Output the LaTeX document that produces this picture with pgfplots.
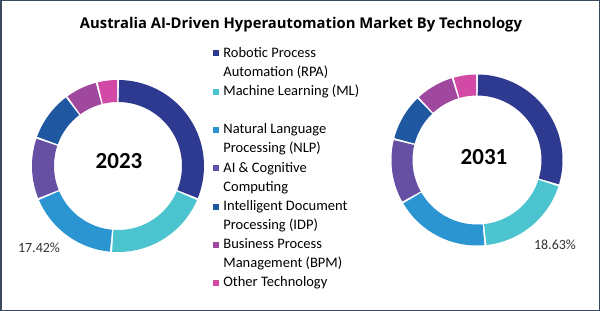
\documentclass[border=0pt]{standalone}
\usepackage{pgfplots}
\pgfplotsset{compat=1.18}
\usepackage{pgfplotstable}
\usepackage{fontspec}
\setmainfont{Carlito}
\newfontfamily\titlefont{Open Sans}
\definecolor{c0}{HTML}{2E3A8F}
\definecolor{c1}{HTML}{4CC4D0}
\definecolor{c2}{HTML}{2B95D2}
\definecolor{c3}{HTML}{6550A3}
\definecolor{c4}{HTML}{1F57A0}
\definecolor{c5}{HTML}{A0479E}
\definecolor{c6}{HTML}{D24AA5}
\definecolor{frame}{HTML}{3A4A5C}

\pgfplotstableread{
tech  v2023 v2031
RPA   31.30 29.80
ML    20.00 18.63
NLP   17.42 18.30
AI    11.60 12.20
IDP    9.50  9.00
BPM    6.20  7.50
Other  3.98  4.57
}\techdata

% #1 column, #2 cx, #3 cy, #4 mid radius, #5 ring width
\newcommand\donut[5]{%
  \xdef\cum{0}%
  \foreach \i in {0,...,6}{%
    \pgfplotstablegetelem{\i}{#1}\of\techdata
    \pgfmathsetmacro\a{\cum*3.6+0.7}%
    \pgfmathsetmacro\newcum{\cum+\pgfplotsretval}%
    \pgfmathsetmacro\b{\newcum*3.6-0.7}%
    \xdef\cum{\newcum}%
    \edef\tmp{\noexpand\addplot[forget plot, draw=c\i, line width=#5bp, domain=\a:\b, samples=90] ({#2+#4*sin(x)},{#3+#4*cos(x)});}%
    \tmp
  }}

\begin{document}
\begin{tikzpicture}
\useasboundingbox (0,0) rectangle (600bp,311bp);
\begin{axis}[
  at={(0,0)}, anchor=south west,
  x=1bp, y=1bp, xmin=0, xmax=600, ymin=0, ymax=311,
  hide axis, clip=false,
  legend cell align=left,
  legend style={at={(0.355,0.857)}, anchor=north west, draw=none, fill=none,
    inner sep=0pt, outer sep=0pt, row sep=5.06bp, column sep=5bp,
    nodes={inner sep=0pt, font=\fontsize{14.5bp}{18bp}\selectfont},
    cells={anchor=base west}},
  legend image code/.code={\fill[#1] (0bp,1.5bp) rectangle (5bp,6.5bp);},
]
\donut{v2023}{118}{145}{75}{22}
\donut{v2031}{477}{151}{75}{21}

\addlegendimage{c0}\addlegendentry{\strut Robotic Process}
\addlegendimage{empty legend}\addlegendentry{\strut Automation (RPA)}
\addlegendimage{c1}\addlegendentry{\strut Machine Learning (ML)}
\addlegendimage{empty legend}\addlegendentry{\strut}
\addlegendimage{c2}\addlegendentry{\strut Natural Language}
\addlegendimage{empty legend}\addlegendentry{\strut Processing (NLP)}
\addlegendimage{c3}\addlegendentry{\strut AI \& Cognitive}
\addlegendimage{empty legend}\addlegendentry{\strut Computing}
\addlegendimage{c4}\addlegendentry{\strut Intelligent Document}
\addlegendimage{empty legend}\addlegendentry{\strut Processing (IDP)}
\addlegendimage{c5}\addlegendentry{\strut Business Process}
\addlegendimage{empty legend}\addlegendentry{\strut Management (BPM)}
\addlegendimage{c6}\addlegendentry{\strut Other Technology}

\node[anchor=base, inner sep=0pt, font=\titlefont\bfseries\fontsize{14.8bp}{17bp}\selectfont] at (axis cs:301,282.7) {Australia AI-Driven Hyperautomation Market By Technology};
\node[inner sep=0pt, font=\bfseries\fontsize{23bp}{26bp}\selectfont] at (axis cs:119,150) {2023};
\node[inner sep=0pt, font=\bfseries\fontsize{23bp}{26bp}\selectfont] at (axis cs:484,154.3) {2031};
\node[anchor=base, inner sep=0pt, font=\fontsize{14bp}{16bp}\selectfont, text=black!80] at (axis cs:39,58.3) {17.42\%};
\node[anchor=base, inner sep=0pt, font=\fontsize{14bp}{16bp}\selectfont, text=black!80] at (axis cs:555,61.7) {18.63\%};
\end{axis}
\draw[frame, line width=1.5bp] (0.75bp,0.75bp) rectangle (599.25bp,310.25bp);
\end{tikzpicture}
\end{document}
